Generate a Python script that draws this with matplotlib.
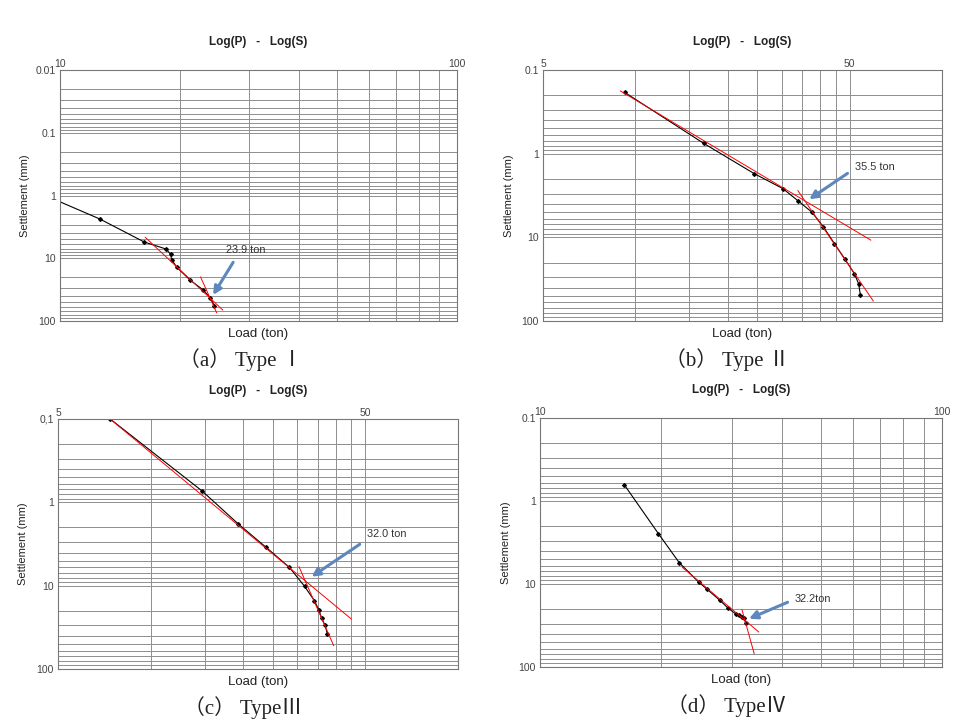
import numpy as np
import matplotlib
matplotlib.use("Agg")
import matplotlib.pyplot as plt

plt.rcParams['font.family'] = ['Liberation Sans', 'DejaVu Sans']

# ---- data (load in ton, settlement in mm) ----
load_a = [5.0, 12.6, 16.3, 18.5, 19.0, 19.1, 19.7, 21.3, 22.9, 23.9, 24.5]
settle_a = [0.19, 2.37, 5.51, 7.13, 8.66, 10.5, 13.96, 22.5, 31.7, 42.5, 57.7]
tan1_a = ([16.4, 25.7], [4.64, 66.8])
tan2_a = ([22.6, 24.8], [19.9, 73.6])

load_b = [9.23, 16.7, 24.4, 30.3, 33.9, 37.6, 41.0, 44.6, 48.3, 51.8, 53.5, 54.2]
settle_b = [0.185, 0.752, 1.73, 2.62, 3.65, 4.98, 7.46, 11.9, 18.3, 27.2, 36.1, 49.3]
tan1_b = ([8.94, 58.6], [0.178, 10.8])
tan2_b = ([33.9, 59.7], [2.77, 57.7])

load_c = [7.39, 14.7, 19.3, 23.7, 28.3, 31.7, 34.1, 35.3, 36.0, 36.9, 37.6]
settle_c = [0.1, 0.729, 1.82, 3.44, 6.04, 10.2, 15.1, 19.7, 24.6, 29.6, 37.6]
tan1_c = ([7.48, 44.9], [0.104, 25.0])
tan2_c = ([30.4, 39.4], [5.93, 52.4])

load_d = [16.2, 19.7, 22.2, 24.8, 26.0, 28.0, 29.4, 30.7, 31.3, 31.8, 32.2, 32.5]
settle_d = [0.636, 2.47, 5.53, 9.46, 11.5, 15.7, 19.6, 23.0, 23.8, 25.0, 25.9, 29.8]
tan1_d = ([22.6, 35.0], [6.30, 37.8])
tan2_d = ([31.8, 34.1], [20.4, 69.0])

yield_labels = ["23.9 ton", "35.5 ton", "32.0 ton", "32.2ton"]
captions = ["（a） Type Ⅰ", "（b） Type Ⅱ", "（c） TypeⅢ", "（d） TypeⅣ"]

# ---- layout (pixels of the 980x721 figure) ----
W, H = 980, 721
panels = [
    dict(box=(60, 457, 70, 321), x=(10, 100), y=(0.01, 100), xt=[10, 100],
         yl=["0.01", "0.1", "1", "10", "100"], load=load_a, settle=settle_a,
         t1=tan1_a, t2=tan2_a, tail=(27.3, 11.6), head=(24.3, 38.5),
         lab=(26.2, 7.39), cap=241, ylab=25),
    dict(box=(543, 942, 70, 321), x=(5, 100), y=(0.1, 100), xt=[5, 50],
         yl=["0.1", "1", "10", "100"], load=load_b, settle=settle_b,
         t1=tan1_b, t2=tan2_b, tail=(49.2, 1.72), head=(36.9, 3.51),
         lab=(52.0, 1.46), cap=727, ylab=509),
    dict(box=(58, 458, 419, 669), x=(5, 100), y=(0.1, 100), xt=[5, 50],
         yl=["0,1", "1", "10", "100"], load=load_c, settle=settle_c,
         t1=tan1_c, t2=tan2_c, tail=(47.9, 3.19), head=(33.4, 7.81),
         lab=(50.6, 2.40), cap=243, ylab=23),
    dict(box=(540, 942, 418, 667), x=(10, 100), y=(0.1, 100), xt=[10, 100],
         yl=["0.1", "1", "10", "100"], load=load_d, settle=settle_d,
         t1=tan1_d, t2=tan2_d, tail=(41.3, 16.6), head=(33.1, 26.2),
         lab=(43.1, 15.0), cap=727, ylab=506),
]

fig = plt.figure(figsize=(W / 100, H / 100), dpi=100)
fig.patch.set_facecolor("white")

tick_col = "#444444"
grid_col = "#8f8f8f"

for i, p in enumerate(panels):
    l, r, t, b = p["box"]
    ax = fig.add_axes([l / W, 1 - b / H, (r - l) / W, (b - t) / H])
    ax.set_xscale("log")
    ax.set_yscale("log")
    ax.set_xlim(*p["x"])
    ax.set_ylim(p["y"][1], p["y"][0])

    # x ticks: majors at axis start and one decade later, minors every step
    x0 = p["x"][0]
    ax.set_xticks(p["xt"])
    ax.set_xticklabels([str(v) for v in p["xt"]])
    xminor = [x0 * k for k in range(2, 10)] + [x0 * 10 * k for k in range(2, 10)]
    ax.set_xticks([v for v in xminor if v < p["x"][1]], minor=True)
    ax.xaxis.tick_top()

    ydec = [p["y"][0] * 10 ** k for k in range(len(p["yl"]))]
    ax.set_yticks(ydec)
    ax.set_yticklabels(p["yl"])
    ax.set_yticks([d * k for d in ydec[:-1] for k in range(2, 10)], minor=True)
    ax.yaxis.set_minor_formatter(matplotlib.ticker.NullFormatter())
    ax.xaxis.set_minor_formatter(matplotlib.ticker.NullFormatter())

    ax.tick_params(which="both", length=0, labelsize=7.5, colors=tick_col)
    ax.tick_params(axis="x", pad=1)
    ax.tick_params(axis="y", pad=3)

    ax.grid(True, which="both", color=grid_col, lw=0.7)
    ax.set_axisbelow(True)
    for s in ax.spines.values():
        s.set_color("#777777")
        s.set_linewidth(0.8)

    # data and tangent lines
    ax.plot(p["load"], p["settle"], color="black", lw=0.8, marker="D", ms=1.9)
    ax.plot(p["t1"][0], p["t1"][1], color="red", lw=0.7)
    ax.plot(p["t2"][0], p["t2"][1], color="red", lw=0.7)

    ax.annotate("", xy=p["head"], xytext=p["tail"],
                arrowprops=dict(arrowstyle="-|>", color="#5d87bd", lw=2.2,
                                mutation_scale=12, shrinkA=0, shrinkB=0))
    ax.text(p["lab"][0], p["lab"][1], yield_labels[i], fontsize=7.8,
            color="#333333", ha="left", va="center")

    h = b - t
    ax.text(0.5, 1 + 28 / h, "Log(P)   -   Log(S)", transform=ax.transAxes,
            ha="center", va="center", fontsize=8.5, fontweight="bold",
            color="#222222")
    ax.text(0.5, -13 / h, "Load (ton)", transform=ax.transAxes,
            ha="center", va="center", fontsize=9.5, color="#222222")
    fig.text(p["ylab"] / W, 1 - (t + b) / 2 / H, "Settlement (mm)",
             rotation=90, ha="center", va="center", fontsize=8,
             color="#222222")
    fig.text(p["cap"] / W, 1 - (b + 39) / H, captions[i],
             ha="center", va="center", fontsize=15,
             family=["Liberation Serif", "Noto Sans CJK KR"], color="#222222")

fig.savefig("out.png", dpi=100, facecolor="white")
